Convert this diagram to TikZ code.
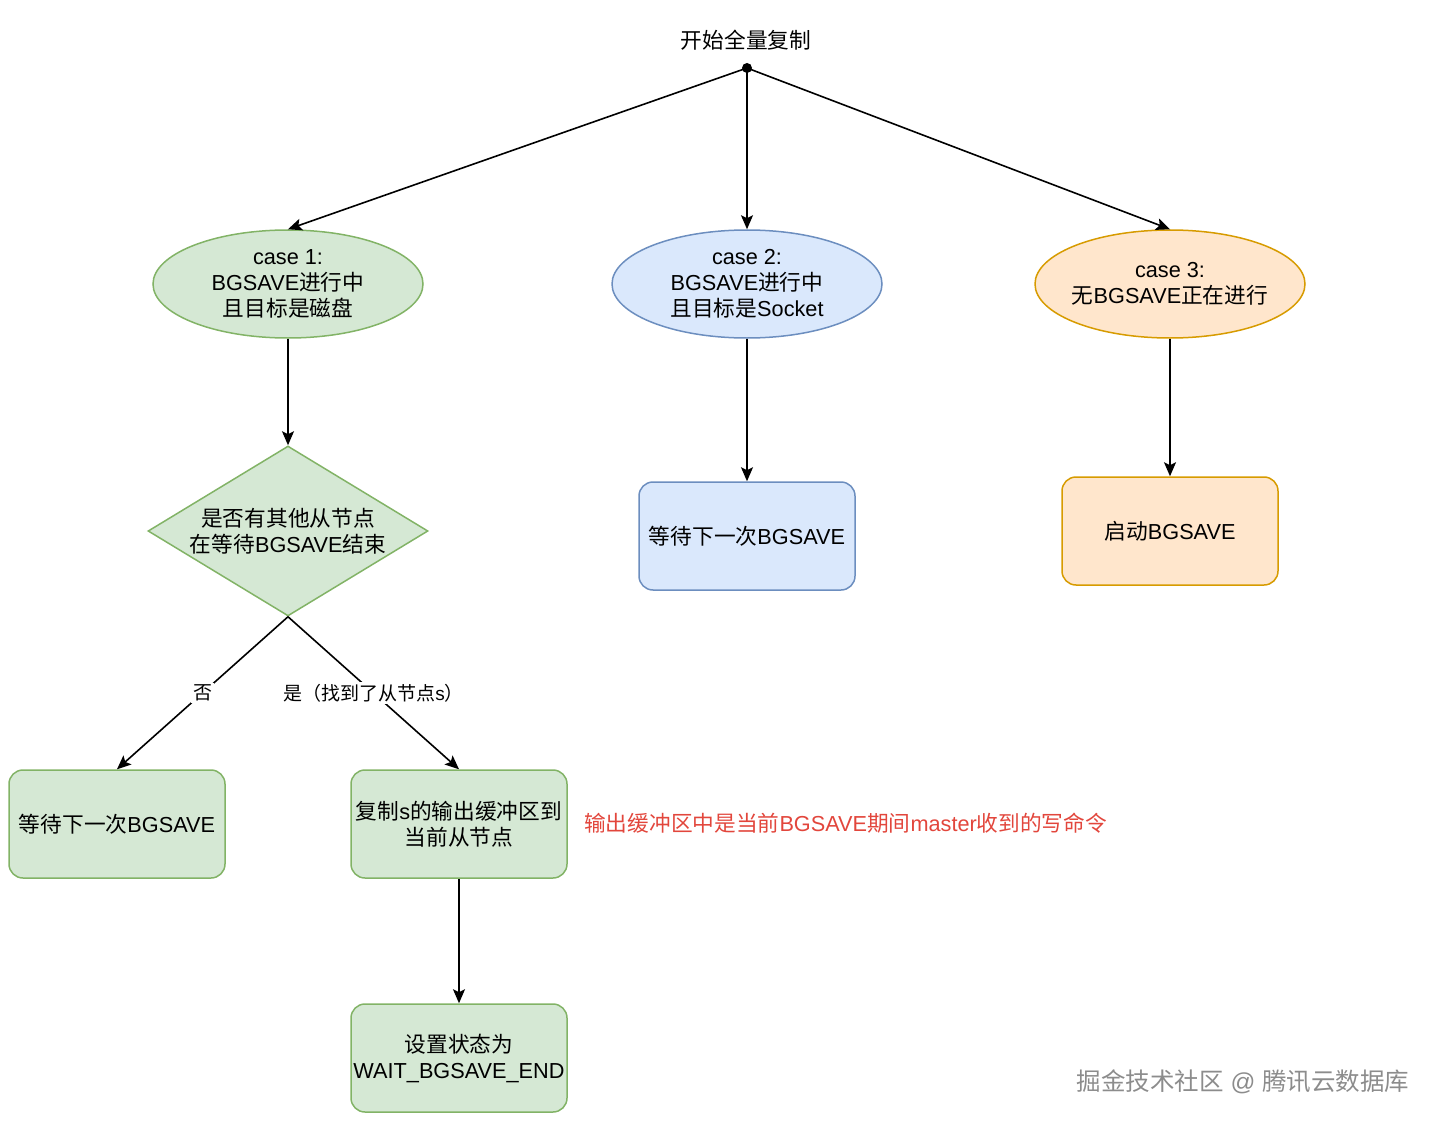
\documentclass[tikz,border=0pt]{standalone}
\usepackage{fontspec}
\setmainfont{Liberation Sans}
\newfontfamily\cjk{Noto Sans CJK SC}
\usetikzlibrary{shapes.geometric,arrows.meta}
\newcommand\zh[1]{{\cjk #1}}
\definecolor{gfill}{HTML}{D5E8D4}
\definecolor{gline}{HTML}{82B366}
\definecolor{bfill}{HTML}{DAE8FC}
\definecolor{bline}{HTML}{6C8EBF}
\definecolor{ofill}{HTML}{FFE6CC}
\definecolor{oline}{HTML}{D79B00}
\definecolor{redtxt}{HTML}{E2463C}
\begin{document}
\begin{tikzpicture}[x=1pt,y=-1pt,
  every node/.style={font=\fontsize{21.7}{26}\selectfont, align=center, inner sep=0pt},
  ell/.style={ellipse, draw, line width=1.5pt, minimum width=270pt, minimum height=108pt, inner xsep=-30pt, inner ysep=-10pt},
  rbox/.style={rectangle, rounded corners=14pt, draw, line width=1.5pt, minimum width=216pt, minimum height=108pt},
  gr/.style={fill=gfill, draw=gline},
  bl/.style={fill=bfill, draw=bline},
  og/.style={fill=ofill, draw=oline},
  conn/.style={line width=1.6pt, -{Stealth[length=14pt,width=12pt,inset=3pt]}},
  elabel/.style={font=\fontsize{19}{22}\selectfont, fill=white, inner sep=2pt}
]
\useasboundingbox (0,0) rectangle (1440,1126);

\node (title) at (746,40) {\zh{开始全量复制}};
\fill (747,68) circle (5pt);
\coordinate (dot) at (747,68);

\node[ell,gr] (c1) at (288,284) {case 1:\\BGSAVE\zh{进行中}\\\zh{且目标是磁盘}};
\node[ell,bl] (c2) at (747,284) {case 2:\\BGSAVE\zh{进行中}\\\zh{且目标是}Socket};
\node[ell,og] (c3) at (1170,284) {case 3:\\\zh{无}BGSAVE\zh{正在进行}};

\node[diamond, aspect=1.647, draw, line width=1.5pt, gr, minimum width=280pt, minimum height=170pt] (d1) at (288,531) {\zh{是否有其他从节点}\\\zh{在等待}BGSAVE\zh{结束}};

\node[rbox,bl] (b2) at (747,536) {\zh{等待下一次}BGSAVE};
\node[rbox,og] (b3) at (1170,531) {\zh{启动}BGSAVE};

\node[rbox,gr] (b4) at (117,824) {\zh{等待下一次}BGSAVE};
\node[rbox,gr] (b5) at (459,824) {\zh{复制}s\zh{的输出缓冲区到}\\\zh{当前从节点}};
\node[rbox,gr] (b6) at (459,1058) {\zh{设置状态为}\\WAIT\_BGSAVE\_END};

\node[anchor=west, text=redtxt] (note) at (584,823) {\zh{输出缓冲区中是当前}BGSAVE\zh{期间}master\zh{收到的写命令}};

\node[text=black!45, font=\fontsize{24.5}{28}\selectfont] (wm) at (1243,1082) {\zh{掘金技术社区} @ \zh{腾讯云数据库}};

\draw[conn] (dot) -- (c1.north);
\draw[conn] (dot) -- (c2.north);
\draw[conn] (dot) -- (c3.north);
\draw[conn] (c1.south) -- (d1.north);
\draw[conn] (c2.south) -- (b2.north);
\draw[conn] (c3.south) -- (b3.north);
\draw[conn] (d1.south) -- node[elabel] {\zh{否}} (b4.north);
\draw[conn] (d1.south) -- node[elabel] {\zh{是（找到了从节点}s\zh{）}} (b5.north);
\draw[conn] (b5.south) -- (b6.north);
\end{tikzpicture}
\end{document}
